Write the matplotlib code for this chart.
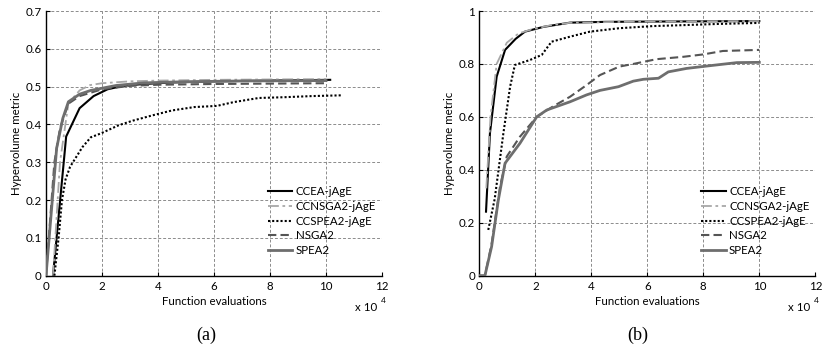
import matplotlib
matplotlib.use("Agg")
import matplotlib.pyplot as plt

plt.rcParams['font.family'] = ['Lato', 'DejaVu Sans']
FS = 8.3

names = ['CCEA-jAgE', 'CCNSGA2-jAgE', 'CCSPEA2-jAgE', 'NSGA2', 'SPEA2']

# Panel (a): hypervolume vs function evaluations (x in units of 1e4)
a_ccea_x = [0.25, 0.72, 1.2, 1.7, 2.2, 2.75, 3.5, 4.5, 6, 8, 10.15]
a_ccea_y = [0, 0.368, 0.443, 0.475, 0.493, 0.502, 0.507, 0.511, 0.514, 0.516, 0.518]
a_ccnsga_x = [0.25, 0.5, 0.8, 1.2, 1.57, 2.0, 3.0, 4.0, 6.0, 8.0, 10.0]
a_ccnsga_y = [0, 0.3, 0.456, 0.49, 0.504, 0.509, 0.514, 0.516, 0.518, 0.519, 0.52]
a_ccspea_x = [0.3, 0.45, 0.57, 0.7, 0.86, 1.3, 1.6, 1.95, 2.6, 3.1, 3.8, 4.5, 5.3,
              6.1, 6.7, 7.6, 8.5, 9.5, 10.55]
a_ccspea_y = [0, 0.1, 0.2, 0.255, 0.288, 0.34, 0.366, 0.376, 0.398, 0.41, 0.424, 0.437,
              0.446, 0.449, 0.459, 0.47, 0.472, 0.475, 0.477]
a_nsga_x = [0, 0.3, 0.5, 0.8, 1.2, 2, 3, 4, 6, 8, 10]
a_nsga_y = [0, 0.3, 0.39, 0.455, 0.475, 0.493, 0.502, 0.505, 0.507, 0.508, 0.509]
a_spea_x = [0, 0.38, 0.6, 0.8, 1.2, 1.6, 2.5, 3.5, 5, 7, 10]
a_spea_y = [0, 0.337, 0.416, 0.46, 0.48, 0.49, 0.503, 0.51, 0.513, 0.515, 0.516]

# Panel (b)
b_ccea_x = [0.24, 0.38, 0.62, 0.92, 1.3, 1.63, 2.29, 3.24, 4.5, 6, 8, 10]
b_ccea_y = [0.242, 0.538, 0.752, 0.853, 0.895, 0.922, 0.94, 0.956, 0.959, 0.96, 0.961, 0.962]
b_ccnsga_x = [0.25, 0.4, 0.62, 0.98, 1.4, 1.85, 2.5, 3.2, 4.5, 6, 8, 10]
b_ccnsga_y = [0.33, 0.6, 0.80, 0.88, 0.915, 0.93, 0.945, 0.955, 0.958, 0.96, 0.961, 0.962]
b_ccspea_x = [0.32, 0.55, 0.86, 1.1, 1.27, 1.81, 2.23, 2.58, 3.24, 3.95, 5.0, 6.2, 7.4,
              8.5, 10]
b_ccspea_y = [0.173, 0.29, 0.538, 0.714, 0.796, 0.815, 0.834, 0.884, 0.903, 0.922, 0.935,
              0.943, 0.947, 0.951, 0.955]
b_nsga_x = [0, 0.2, 0.44, 0.74, 0.98, 1.45, 2.05, 2.64, 3.24, 3.83, 4.31, 5.0, 5.5, 6.33,
            7.29, 8.0, 8.7, 10]
b_nsga_y = [0, 0, 0.12, 0.336, 0.45, 0.525, 0.60, 0.64, 0.676, 0.72, 0.758, 0.79, 0.80,
            0.818, 0.827, 0.836, 0.849, 0.853]
b_spea_x = [0, 0.2, 0.44, 0.68, 0.92, 1.45, 2.05, 2.41, 3.24, 3.83, 4.31, 4.97, 5.5, 5.86,
            6.4, 6.75, 7.4, 8.12, 9.2, 10]
b_spea_y = [0, 0, 0.11, 0.286, 0.425, 0.50, 0.60, 0.626, 0.657, 0.683, 0.70, 0.714, 0.735,
            0.742, 0.746, 0.77, 0.783, 0.792, 0.805, 0.806]

x_ticks = [0, 2, 4, 6, 8, 10, 12]
a_yticks = [0, 0.1, 0.2, 0.3, 0.4, 0.5, 0.6, 0.7]
a_yticklabels = ['0', '0.1', '0.2', '0.3', '0.4', '0.5', '0.6', '0.7']
b_yticks = [0, 0.2, 0.4, 0.6, 0.8, 1.0]
b_yticklabels = ['0', '0.2', '0.4', '0.6', '0.8', '1']

styles = [
    dict(color='black', lw=1.5, ls='-'),
    dict(color='#a8a8a8', lw=1.3, ls=(0, (6, 2, 1.5, 2))),
    dict(color='black', lw=1.5, ls=(0, (1, 1))),
    dict(color='#555555', lw=1.5, ls=(0, (4, 2))),
    dict(color='#6e6e6e', lw=2.0, ls='-'),
]

fig = plt.figure(figsize=(8.23, 3.52), dpi=100)
W, H = 823, 352


def make_axes(left_px, data, yticks, yticklabels, ymax, tag, tag_x):
    ax = fig.add_axes([left_px / W, (H - 275.7) / H, 336 / W, 264.7 / H])
    order = [4, 3, 1, 2, 0]
    lines = {}
    for i in order:
        xs, ys = data[i]
        st = styles[i]
        ln, = ax.plot(xs, ys, color=st['color'], lw=st['lw'], linestyle=st['ls'],
                      label=names[i], zorder=3 + i * 0.1)
        lines[i] = ln
    ax.set_xlim(0, 12)
    ax.set_ylim(0, ymax)
    ax.set_xticks(x_ticks)
    ax.set_xticklabels([str(t) for t in x_ticks])
    ax.set_yticks(yticks)
    ax.set_yticklabels(yticklabels)
    ax.grid(True, color='#8c8c8c', linestyle=(0, (3, 2)), linewidth=0.7)
    ax.set_axisbelow(True)
    for s in ['top', 'right']:
        ax.spines[s].set_visible(False)
    for s in ['left', 'bottom']:
        ax.spines[s].set_linewidth(1.0)
        ax.spines[s].set_color('black')
    ax.tick_params(direction='in', length=3, width=0.8, labelsize=FS, pad=3,
                   colors='black')
    ax.tick_params(axis='x', pad=4)
    ax.set_xlabel('Function evaluations', fontsize=FS, labelpad=2.5)
    ax.set_ylabel('Hypervolume metric', fontsize=FS)
    ax.yaxis.set_label_coords(-0.071, 0.5)
    ax.legend([lines[i] for i in range(5)], names, loc='upper left',
              bbox_to_anchor=(0.661, 0.338), frameon=False, fontsize=FS,
              handlelength=2.1, handletextpad=0.3, labelspacing=0.32,
              borderpad=0, borderaxespad=0)
    fig.text((left_px + 309) / W, 1 - 311 / H, 'x 10', fontsize=FS, ha='left',
             va='baseline')
    fig.text((left_px + 335) / W, 1 - 303 / H, '4', fontsize=6, ha='left',
             va='baseline')
    fig.text(tag_x / W, 1 - 335 / H, tag, fontsize=13, ha='center', va='center',
             family='Liberation Serif')
    return ax


data_a = [(a_ccea_x, a_ccea_y), (a_ccnsga_x, a_ccnsga_y), (a_ccspea_x, a_ccspea_y),
          (a_nsga_x, a_nsga_y), (a_spea_x, a_spea_y)]
data_b = [(b_ccea_x, b_ccea_y), (b_ccnsga_x, b_ccnsga_y), (b_ccspea_x, b_ccspea_y),
          (b_nsga_x, b_nsga_y), (b_spea_x, b_spea_y)]

make_axes(46, data_a, a_yticks, a_yticklabels, 0.7, '(a)', 206)
make_axes(479.3, data_b, b_yticks, b_yticklabels, 1.0, '(b)', 638)

fig.savefig('out.png', dpi=100)
